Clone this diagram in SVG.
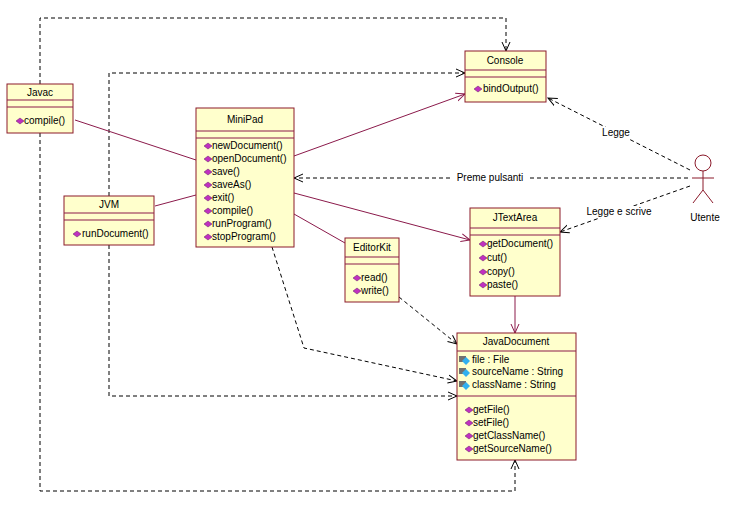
<svg xmlns="http://www.w3.org/2000/svg" width="741" height="523" viewBox="0 0 741 523">
<style>
.b{fill:#FFFFCC;stroke:#8B1A2B;stroke-width:1}
.t{font-family:"Liberation Sans",Arial,sans-serif;font-size:10px;fill:#000}
.c{text-anchor:middle}
.s{stroke:#8B1A4B;stroke-width:1;fill:none}
.d{stroke:#000;stroke-width:1;fill:none;stroke-dasharray:4,3}
.op{fill:#C030C0;stroke:#602060;stroke-width:0.5}
.lk{fill:#707070}
.cy{fill:#30B0F0}
</style>
<defs>
<marker id="a" markerWidth="10" markerHeight="10" refX="9" refY="5" orient="auto" markerUnits="userSpaceOnUse"><path d="M0,1 L9,5 L0,9" fill="none" stroke="#000"/></marker>
<marker id="as" markerWidth="10" markerHeight="10" refX="9" refY="5" orient="auto" markerUnits="userSpaceOnUse"><path d="M0,1 L9,5 L0,9" fill="none" stroke="#8B1A4B"/></marker>
<path id="di" d="M0,-3 L4,0 L0,3 L-4,0Z" class="op"/>
<g id="at"><rect x="-6" y="-4" width="7" height="6" class="lk"/><path d="M1,-3 L5,1 L1,5 L-3,1Z" class="cy"/></g>
</defs>
<g id="connectors">
<path class="d" d="M40,84 V18 H506 V51" marker-end="url(#a)"/>
<path class="d" d="M40,133 V491 H515 V460" marker-end="url(#a)"/>
<path class="d" d="M109,196 V73 H465" marker-end="url(#a)"/>
<path class="d" d="M109,245 V396 H457" marker-end="url(#a)"/>
<path class="s" d="M75,120 L196,160"/>
<path class="s" d="M155,206 L196,195"/>
<path class="s" d="M294,156 L465,94" marker-end="url(#as)"/>
<path class="s" d="M294,193 L470,240" marker-end="url(#as)"/>
<path class="s" d="M294,214 L345,243"/>
<path class="d" d="M272,247 L304,348 L457,381" marker-end="url(#a)"/>
<path class="d" d="M399,297 L457,344" marker-end="url(#a)"/>
<path class="s" d="M515,296 V333" marker-end="url(#as)"/>
<path class="d" d="M690,170 L548,98" marker-end="url(#a)"/>
<path class="d" d="M688,178 H294" marker-end="url(#a)"/>
<path class="d" d="M690,186 L560,232" marker-end="url(#a)"/>
<rect x="598" y="127" width="36" height="12" fill="#fff"/>
<text class="t c" x="616" y="136">Legge</text>
<rect x="450" y="172" width="80" height="12" fill="#fff"/>
<text class="t c" x="490" y="181">Preme pulsanti</text>
<rect x="582" y="206" width="74" height="12" fill="#fff"/>
<text class="t c" x="619" y="215">Legge e scrive</text>
</g>
<g id="Javac">
<rect class="b" x="7" y="84" width="66" height="49"/>
<path class="s" d="M7,100 H73 M7,107 H73"/>
<text class="t c" x="40" y="96">Javac</text>
<use href="#di" x="20" y="121"/><text class="t" x="24" y="124">compile()</text>
</g>
<g id="JVM">
<rect class="b" x="64" y="196" width="90" height="49"/>
<path class="s" d="M64,213 H154 M64,220 H154"/>
<text class="t c" x="109" y="208">JVM</text>
<use href="#di" x="77" y="234"/><text class="t" x="82" y="237">runDocument()</text>
</g>
<g id="MiniPad">
<rect class="b" x="196" y="108" width="98" height="139"/>
<path class="s" d="M196,131 H294 M196,138 H294"/>
<text class="t c" x="245" y="123">MiniPad</text>
<use href="#di" x="208" y="146"/><text class="t" x="212" y="149">newDocument()</text>
<use href="#di" x="208" y="159"/><text class="t" x="212" y="162">openDocument()</text>
<use href="#di" x="208" y="172"/><text class="t" x="212" y="175">save()</text>
<use href="#di" x="208" y="185"/><text class="t" x="212" y="188">saveAs()</text>
<use href="#di" x="208" y="198"/><text class="t" x="212" y="201">exit()</text>
<use href="#di" x="208" y="211"/><text class="t" x="212" y="214">compile()</text>
<use href="#di" x="208" y="224"/><text class="t" x="212" y="227">runProgram()</text>
<use href="#di" x="208" y="237"/><text class="t" x="212" y="240">stopProgram()</text>
</g>
<g id="Console">
<rect class="b" x="465" y="51" width="81" height="51"/>
<path class="s" d="M465,70 H546 M465,77 H546"/>
<text class="t c" x="505" y="64">Console</text>
<use href="#di" x="478" y="89"/><text class="t" x="483" y="92">bindOutput()</text>
</g>
<g id="JTextArea">
<rect class="b" x="470" y="208" width="90" height="88"/>
<path class="s" d="M470,228 H560 M470,235 H560"/>
<text class="t c" x="515" y="221">JTextArea</text>
<use href="#di" x="483" y="244"/><text class="t" x="487" y="247">getDocument()</text>
<use href="#di" x="483" y="258"/><text class="t" x="487" y="261">cut()</text>
<use href="#di" x="483" y="272"/><text class="t" x="487" y="275">copy()</text>
<use href="#di" x="483" y="285"/><text class="t" x="487" y="288">paste()</text>
</g>
<g id="EditorKit">
<rect class="b" x="345" y="238" width="54" height="64"/>
<path class="s" d="M345,257 H399 M345,264 H399"/>
<text class="t c" x="372" y="251">EditorKit</text>
<use href="#di" x="357" y="278"/><text class="t" x="361" y="281">read()</text>
<use href="#di" x="357" y="291"/><text class="t" x="361" y="294">write()</text>
</g>
<g id="JavaDocument">
<rect class="b" x="457" y="333" width="119" height="127"/>
<path class="s" d="M457,351 H576 M457,396 H576"/>
<text class="t c" x="516" y="345">JavaDocument</text>
<use href="#at" x="465" y="360"/><text class="t" x="472" y="363">file : File</text>
<use href="#at" x="465" y="372"/><text class="t" x="472" y="375">sourceName : String</text>
<use href="#at" x="465" y="385"/><text class="t" x="472" y="388">className : String</text>
<use href="#di" x="469" y="410"/><text class="t" x="473" y="413">getFile()</text>
<use href="#di" x="469" y="423"/><text class="t" x="473" y="426">setFile()</text>
<use href="#di" x="469" y="436"/><text class="t" x="473" y="439">getClassName()</text>
<use href="#di" x="469" y="449"/><text class="t" x="473" y="452">getSourceName()</text>
</g>
<g id="Utente" stroke="#8B1A2B" fill="none">
<circle cx="703" cy="163" r="8" fill="#fff"/>
<path d="M703,171 V190 M692,178 H714 M703,190 L693,203 M703,190 L713,203"/>
<text class="t c" x="705" y="221" stroke="none">Utente</text>
</g>
</svg>
